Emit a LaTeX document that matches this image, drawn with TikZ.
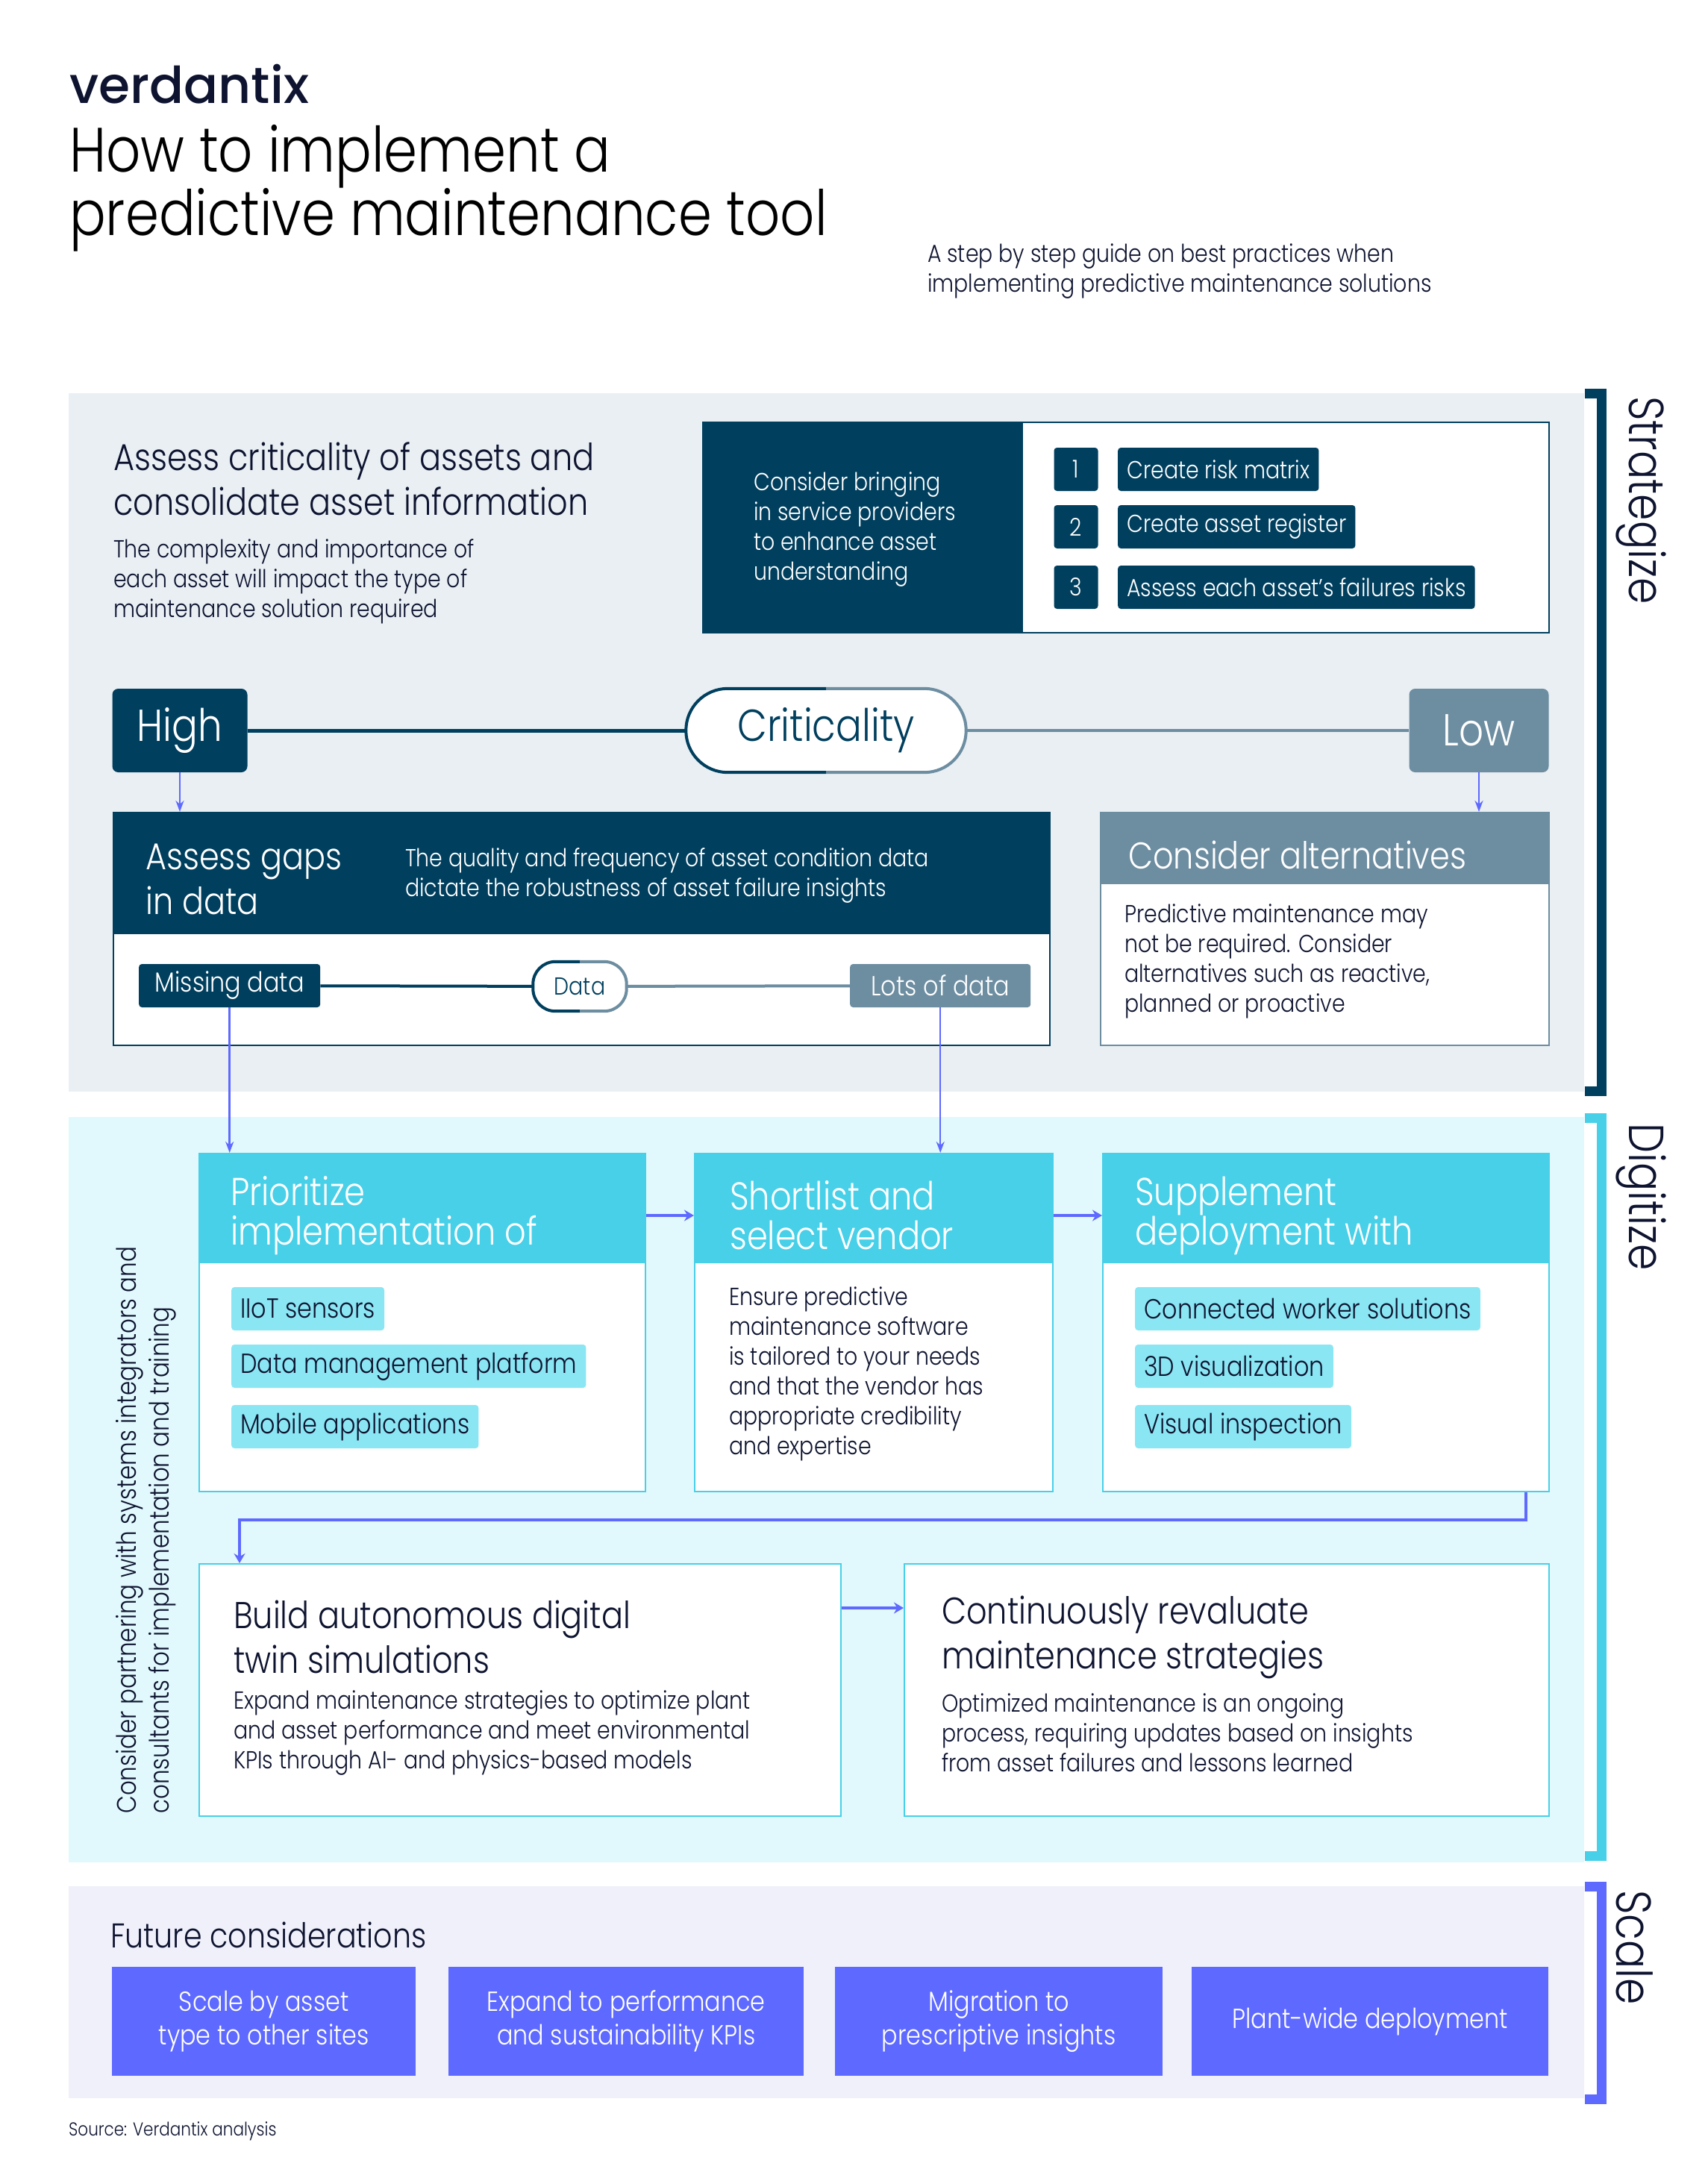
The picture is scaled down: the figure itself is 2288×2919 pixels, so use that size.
\documentclass[tikz,border=0pt]{standalone}
\usepackage{fontspec}
\setmainfont{Poppins}[UprightFont=* Light,FakeStretch=0.86]
\newfontfamily\logofont{Poppins}[UprightFont=* Medium]
\usetikzlibrary{arrows.meta, positioning}
\definecolor{navy}{HTML}{003F5E}
\definecolor{steel}{HTML}{6D8DA1}
\definecolor{ink}{HTML}{0E1430}
\definecolor{cyanbar}{HTML}{47D0E8}
\definecolor{cyanchip}{HTML}{8BE6F3}
\definecolor{indigo}{HTML}{5E69FF}
\definecolor{panelgrey}{HTML}{E9EFF3}
\definecolor{panelcyan}{HTML}{E1F9FC}
\definecolor{panelindigo}{HTML}{EFF0FA}
\newcommand{\fsz}[2]{\fontsize{#1}{#2}\selectfont}
\tikzset{
	panel/.style={rectangle, inner sep=0pt, anchor=north west},
	txt/.style={inner sep=0pt, anchor=west, align=left, text=ink},
	whitetxt/.style={txt, text=white},
	bodyfont/.style={font=\fsz{33}{40}},
	headfont/.style={font=\fsz{50}{60}},
	barfont/.style={font=\fsz{52}{53}},
	sidefont/.style={font=\fsz{66}{70}, inner sep=0pt, rotate=-90, anchor=south west, text=ink},
	chipnavy/.style={fill=navy, text=white, rounded corners=4, inner sep=0pt, inner xsep=12pt, minimum height=58pt, anchor=west, bodyfont},
	chipcyan/.style={fill=cyanchip, text=ink, rounded corners=4, inner sep=0pt, inner xsep=12pt, minimum height=58pt, anchor=west, font=\fsz{37}{40}},
	chipsteel/.style={chipnavy, fill=steel},
	numbox/.style={fill=navy, text=white, rounded corners=4, inner sep=0pt, minimum width=59pt, minimum height=58pt, bodyfont},
	bigcap/.style={rounded corners=8, inner sep=0pt, minimum height=112pt, text=white, font=\fsz{60}{60}},
	flow/.style={indigo, line width=2.5pt, -{Stealth[length=15pt,width=11pt]}},
	flowthick/.style={indigo, line width=4pt, -{Stealth[length=13pt,width=15pt]}},
	bracket/.style={line width=13pt, line cap=butt}
}
\begin{document}
\begin{tikzpicture}[x=1pt, y=-1pt]
	\useasboundingbox (0,0) rectangle (2288,2919);
	% heading
	\node[inner sep=0pt, anchor=base west, text=ink, font=\logofont\fsz{68}{70}] (logo) at (93,139) {verdantix};
	\node[inner sep=0pt, anchor=base west, align=left, text=black, font=\fsz{84}{84}] (title) at (93,316) {How to implement a\\predictive maintenance tool};
	\node[txt, font=\fsz{33}{40}] (subtitle) at (1243,364) {A step by step guide on best practices when\\implementing predictive maintenance solutions};
	% the three bands
	\node[panel, fill=panelgrey, minimum width=2031pt, minimum height=936pt] (strat) at (92,527) {};
	\node[panel, fill=panelcyan, minimum width=2031pt, minimum height=999pt] (digi) at (92,1497) {};
	\node[panel, fill=panelindigo, minimum width=2031pt, minimum height=284pt] (scale) at (92,2528) {};
	\draw[bracket, navy] (2124,527.5) -- (2146,527.5) -- (2146,1462) -- (2124,1462);
	\draw[bracket, cyanbar] (2124,1498) -- (2146,1498) -- (2146,2487) -- (2124,2487);
	\draw[bracket, indigo] (2124,2528) -- (2146,2528) -- (2146,2813) -- (2124,2813);
	\node[sidefont] (stratlabel) at (2166,531) {Strategize};
	\node[sidefont] (digilabel) at (2166,1505) {Digitize};
	\node[sidefont] (scalelabel) at (2166,2533) {Scale};
	% strategize
	\node[txt, headfont] (assess) at (152,642) {Assess criticality of assets and\\consolidate asset information};
	\node[txt, bodyfont] (assessnote) at (152,779) {The complexity and importance of\\each asset will impact the type of\\maintenance solution required};
	\node[panel, draw=navy, line width=2pt, fill=white, minimum width=1134pt, minimum height=282pt] (bring) at (941,565) {};
	\node[panel, fill=navy, minimum width=430pt, minimum height=282pt] (bringhead) at (bring.north west) {};
	\node[whitetxt, bodyfont] (bringtext) at (1010,710) {Consider bringing\\in service providers\\to enhance asset\\understanding};
	\node[numbox] (one) at (1442,629) {1};
	\node[numbox] (two) at (1442,706) {2};
	\node[numbox] (three) at (1442,787) {3};
	\node[chipnavy] (risk) at (1498,629) {Create risk matrix};
	\node[chipnavy] (register) at (1498,706) {Create asset register};
	\node[chipnavy] (failures) at (1498,787) {Assess each asset’s failures risks};
	\node[bigcap, fill=navy, minimum width=181pt] (high) at (241,979) {High};
	\node[bigcap, fill=steel, minimum width=187pt] (low) at (1982,979) {Low};
	\node[inner sep=0pt, fill=white, rounded corners=56, minimum width=375pt, minimum height=112pt, text=navy, font=\fsz{60}{60}] (crit) at (1107,979) {Criticality};
	\draw[navy, line width=5pt] (high) -- (crit);
	\draw[steel, line width=4pt] (crit) -- (low);
	\draw[navy, line width=4pt, rounded corners=56] (crit.north) -- (crit.north west) -- (crit.south west) -- (crit.south);
	\draw[steel, line width=4pt, rounded corners=56] (crit.north) -- (crit.north east) -- (crit.south east) -- (crit.south);
	\node[panel, draw=navy, line width=2pt, fill=white, minimum width=1255pt, minimum height=312pt] (gaps) at (151,1088) {};
	\node[panel, fill=navy, minimum width=1255pt, minimum height=164pt] (gapshead) at (gaps.north west) {};
	\node[whitetxt, headfont] (gapstitle) at (195,1178) {Assess gaps\\in data};
	\node[whitetxt, bodyfont] (gapstext) at (543,1173) {The quality and frequency of asset condition data\\dictate the robustness of asset failure insights};
	\node[panel, draw=steel, line width=2pt, fill=white, minimum width=601pt, minimum height=312pt] (alt) at (1474,1088) {};
	\node[panel, fill=steel, minimum width=601pt, minimum height=97pt] (althead) at (alt.north west) {};
	\node[whitetxt, headfont] (alttitle) at (1512,1146) {Consider alternatives};
	\node[txt, bodyfont] (alttext) at (1507,1288) {Predictive maintenance may\\not be required. Consider\\alternatives such as reactive,\\planned or proactive};
	\draw[flow] (high.south) -- (high.south |- gaps.north);
	\draw[flow] (low.south) -- (low.south |- alt.north);
	\node[chipnavy, inner xsep=0pt, minimum width=243pt, align=center, font=\fsz{37}{40}] (missing) at (186,1321) {Missing data};
	\node[chipsteel, inner xsep=0pt, minimum width=242pt, align=center, font=\fsz{37}{40}] (lots) at (1139,1321) {Lots of data};
	\node[inner sep=0pt, fill=white, rounded corners=30, minimum width=125pt, minimum height=66pt, text=navy, bodyfont] (datapill) at (777,1322) {Data};
	\draw[navy, line width=4pt] (missing) -- (datapill);
	\draw[steel, line width=4pt] (datapill) -- (lots);
	\draw[navy, line width=4pt, rounded corners=30] (datapill.north) -- (datapill.north west) -- (datapill.south west) -- (datapill.south);
	\draw[steel, line width=4pt, rounded corners=30] (datapill.north) -- (datapill.north east) -- (datapill.south east) -- (datapill.south);
	% digitize
	\node[inner sep=0pt, anchor=north west, rotate=90, align=left, text=ink, font=\fsz{36}{44}] (partner) at (155,2431) {Consider partnering with systems integrators and\\consultants for implementation and training};
	\node[panel, draw=cyanbar, line width=2pt, fill=white, minimum width=598pt, minimum height=453pt] (prio) at (266,1545) {};
	\node[panel, fill=cyanbar, minimum width=598pt, minimum height=148pt] (priohead) at (prio.north west) {};
	\node[whitetxt, barfont] (priotitle) at (309,1629) {Prioritize\\implementation of};
	\node[panel, draw=cyanbar, line width=2pt, fill=white, minimum width=480pt, minimum height=453pt] (short) at (930,1545) {};
	\node[panel, fill=cyanbar, minimum width=480pt, minimum height=148pt] (shorthead) at (short.north west) {};
	\node[whitetxt, barfont] (shorttitle) at (978,1629) {Shortlist and\\select vendor};
	\node[txt, bodyfont] (shorttext) at (977,1841) {Ensure predictive\\maintenance software\\is tailored to your needs\\and that the vendor has\\appropriate credibility\\and expertise};
	\node[panel, draw=cyanbar, line width=2pt, fill=white, minimum width=598pt, minimum height=453pt] (supp) at (1477,1545) {};
	\node[panel, fill=cyanbar, minimum width=598pt, minimum height=148pt] (supphead) at (supp.north west) {};
	\node[whitetxt, barfont] (supptitle) at (1521,1629) {Supplement\\deployment with};
	\node[chipcyan] (iiot) at (310,1754) {IIoT sensors};
	\node[chipcyan] (platform) at (310,1831) {Data management platform};
	\node[chipcyan] (mobile) at (310,1912) {Mobile applications};
	\node[chipcyan] (worker) at (1521,1754) {Connected worker solutions};
	\node[chipcyan] (visual) at (1521,1831) {3D visualization};
	\node[chipcyan] (inspect) at (1521,1912) {Visual inspection};
	\node[panel, draw=cyanbar, line width=2pt, fill=white, minimum width=860pt, minimum height=338pt] (twin) at (266,2095) {};
	\node[panel, draw=cyanbar, line width=2pt, fill=white, minimum width=864pt, minimum height=338pt] (again) at (1211,2095) {};
	\node[txt, headfont] (twintitle) at (313,2194) {Build autonomous digital\\twin simulations};
	\node[txt, bodyfont] (twintext) at (313,2322) {Expand maintenance strategies to optimize plant\\and asset performance and meet environmental\\KPIs through AI- and physics-based models};
	\node[txt, headfont] (againtitle) at (1262,2194) {Continuously revaluate\\maintenance strategies};
	\node[txt, bodyfont] (againtext) at (1262,2322) {Optimized maintenance is an ongoing\\process, requiring updates based on insights\\from asset failures and lessons learned};
	\draw[flow] (missing.south) -- (missing.south |- prio.north);
	\draw[flow] (lots.south) -- (lots.south |- short.north);
	\draw[flowthick] (prio.east |- 0,1629) -- (short.west |- 0,1629);
	\draw[flowthick] (short.east |- 0,1629) -- (supp.west |- 0,1629);
	\draw[flowthick] (twin.east |- 0,2155) -- (again.west |- 0,2155);
	\coordinate (turnright) at (2045,2037);
	\coordinate (turnleft) at (321,2037);
	\draw[flowthick] (turnright |- supp.south) -- (turnright) -- (turnleft) -- (turnleft |- twin.north);
	% scale
	\node[txt, font=\fsz{46}{50}] (future) at (148,2593) {Future considerations};
	\tikzset{scalebox/.style={panel, fill=indigo, text=white, minimum height=146pt, align=center, font=\fsz{37}{45}}}
	\node[scalebox, minimum width=407pt] (sites) at (150,2636) {Scale by asset\\type to other sites};
	\node[scalebox, minimum width=476pt] (kpis) at (601,2636) {Expand to performance\\and sustainability KPIs};
	\node[scalebox, minimum width=439pt] (insights) at (1119,2636) {Migration to\\prescriptive insights};
	\node[scalebox, minimum width=478pt] (plant) at (1597,2636) {Plant-wide deployment};
	\node[txt, font=\fsz{25}{30}] (source) at (92,2856) {Source: Verdantix analysis};
\end{tikzpicture}
\end{document}
